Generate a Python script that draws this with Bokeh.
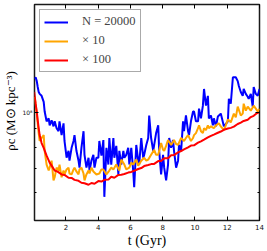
from bokeh.plotting import figure
from bokeh.models import (Range1d, FixedTicker, LinearAxis, LogAxis, Legend,
                          LegendItem)
from bokeh.embed import file_html
from bokeh.resources import INLINE

# central density rho_c, in units of 1e7 Msun/kpc^3, versus time t (Gyr)
UNIT = 1e7

t_n20000 = [0.06, 0.12, 0.19, 0.25, 0.31, 0.37, 0.49, 0.62, 0.68, 0.80, 0.93, 0.99,
            1.11, 1.23, 1.30, 1.42, 1.54, 1.60, 1.73, 1.85, 1.91, 2.04, 2.16, 2.22,
            2.35, 2.47, 2.53, 2.65, 2.78, 2.84, 2.96, 3.09, 3.15, 3.27, 3.40, 3.46,
            3.58, 3.70, 3.77, 3.89, 4.01, 4.07, 4.20, 4.32, 4.38, 4.51, 4.63, 4.69,
            4.81, 4.94, 5.00, 5.12, 5.25, 5.31, 5.43, 5.56, 5.62, 5.74, 5.86, 5.93,
            6.05, 6.17, 6.23, 6.36, 6.48, 6.54, 6.67, 6.79, 6.85, 6.98, 7.10, 7.16,
            7.28, 7.41, 7.47, 7.59, 7.72, 7.78, 7.90, 8.02, 8.09, 8.21, 8.33, 8.40,
            8.52, 8.64, 8.70, 8.83, 8.95, 9.01, 9.14, 9.26, 9.32, 9.44, 9.57, 9.63,
            9.75, 9.88, 9.94, 10.06, 10.19, 10.25, 10.37, 10.49, 10.56, 10.68, 10.80,
            10.86, 10.99, 11.11, 11.17, 11.30, 11.42, 11.60, 11.79, 12.04, 12.10,
            12.22, 12.35, 12.41, 12.53, 12.65, 12.72, 12.84, 12.96, 13.02, 13.15,
            13.27, 13.33, 13.46, 13.58, 13.64, 13.77, 13.89, 14.00]
rho_n20000 = [12.39, 12.54, 12.23, 11.78, 11.41, 11.27, 11.13, 10.71, 10.06, 9.45, 9.63, 9.21,
              9.51, 9.15, 9.45, 9.04, 8.87, 9.45, 8.65, 9.33, 8.33, 7.48, 7.82, 7.34,
              7.97, 8.33, 8.65, 7.82, 7.34, 7.02, 7.97, 8.87, 7.62, 7.02, 7.48, 6.89,
              7.34, 7.62, 7.02, 7.48, 7.48, 8.33, 7.58, 8.38, 5.82, 7.97, 7.16, 8.49,
              7.16, 8.49, 7.48, 8.07, 6.72, 7.82, 7.16, 7.82, 7.48, 7.62, 7.97, 7.16,
              7.97, 6.89, 6.19, 8.12, 7.34, 7.16, 8.49, 7.48, 7.62, 8.12, 8.49, 9.81,
              8.49, 7.82, 8.12, 8.76, 9.21, 7.82, 6.72, 7.62, 7.02, 6.47, 7.16, 8.49,
              7.97, 8.38, 7.82, 7.02, 7.34, 8.12, 7.82, 9.45, 8.87, 9.81, 8.87, 8.65,
              9.45, 10.06, 10.06, 9.45, 9.45, 10.25, 9.63, 10.45, 11.63, 10.45, 11.13,
              9.63, 9.81, 9.21, 9.63, 9.15, 9.75, 9.93, 9.15, 9.45, 10.92,
              10.58, 12.54, 12.54, 12.54, 12.23, 11.85, 11.41, 11.13, 11.63, 11.27,
              11.06, 10.92, 11.27, 10.38, 11.78, 11.27, 11.13, 11.63]

t_x10 = [0.06, 0.19, 0.31, 0.37, 0.49, 0.62, 0.68, 0.80, 0.93, 0.99, 1.11, 1.23,
         1.30, 1.42, 1.54, 1.60, 1.73, 1.85, 1.91, 2.04, 2.16, 2.22, 2.35, 2.47,
         2.53, 2.65, 2.78, 2.84, 2.96, 3.09, 3.15, 3.27, 3.40, 3.46, 3.58, 3.70,
         3.89, 4.07, 4.20, 4.32, 4.51, 4.69, 4.81, 4.94, 5.12, 5.31, 5.43, 5.62,
         5.74, 5.93, 6.05, 6.17, 6.36, 6.48, 6.67, 6.85, 6.98, 7.10, 7.28, 7.47,
         7.59, 7.72, 7.90, 8.02, 8.09, 8.21, 8.33, 8.52, 8.64, 8.70, 8.83, 8.95,
         9.14, 9.32, 9.44, 9.57, 9.75, 9.88, 9.94, 10.06, 10.19, 10.25, 10.37,
         10.49, 10.56, 10.68, 10.80, 10.86, 10.99, 11.17, 11.30, 11.48, 11.60,
         11.79, 11.91, 12.04, 12.22, 12.41, 12.53, 12.65, 12.84, 12.96, 13.02,
         13.15, 13.27, 13.46, 13.64, 13.77, 13.89, 14.00]
rho_x10 = [11.06, 9.93, 8.76, 8.33, 8.49, 8.65, 7.82, 7.16, 6.89, 7.02, 7.34, 6.47,
           6.60, 7.02, 6.89, 7.16, 6.60, 6.89, 6.72, 6.94, 7.02, 6.76, 6.72, 6.94,
           7.02, 6.85, 6.72, 6.94, 7.02, 6.76, 6.47, 6.72, 6.89, 6.76, 7.02, 6.85,
           6.72, 6.76, 6.94, 6.94, 6.72, 6.89, 7.02, 6.94, 7.16, 6.89, 7.39, 7.16,
           6.94, 7.02, 7.25, 7.16, 7.39, 7.11, 7.34, 7.48, 7.34, 7.39, 7.62, 7.87,
           7.62, 7.62, 8.22, 7.87, 7.82, 8.07, 8.38, 8.12, 8.28, 8.38, 8.17, 8.12,
           8.49, 8.33, 8.49, 8.65, 8.33, 8.49, 8.65, 8.76, 9.04, 9.21, 8.87,
           8.76, 9.04, 8.93, 9.21, 9.04, 9.15, 9.04, 9.21, 9.33, 9.15,
           8.93, 9.21, 9.57, 9.39, 9.93, 9.69, 10.38, 9.81, 9.93, 10.58,
           10.12, 10.38, 10.12, 10.45, 10.25, 10.06, 10.25]

t_x100 = [0.03, 0.06, 0.12, 0.19, 0.25, 0.31, 0.37, 0.49, 0.62, 0.80, 0.99, 1.11,
          1.30, 1.48, 1.73, 1.91, 2.16, 2.35, 2.53, 2.78, 2.96, 3.15, 3.40, 3.58,
          3.77, 4.01, 4.20, 4.38, 4.63, 4.81, 5.00, 5.25, 5.43, 5.62, 5.86, 6.05,
          6.23, 6.48, 6.67, 6.85, 7.10, 7.28, 7.47, 7.72, 7.90, 8.09, 8.33, 8.52,
          8.70, 8.95, 9.14, 9.32, 9.57, 9.75, 9.94, 10.19, 10.37, 10.56, 10.80,
          10.99, 11.17, 11.42, 11.60, 11.79, 12.04, 12.22, 12.41, 12.65, 12.84,
          13.02, 13.27, 13.46, 13.64, 13.83, 13.95]
rho_x100 = [11.41, 11.13, 10.58, 10.06, 9.51, 9.04, 8.65, 8.22, 7.97, 7.58, 7.25, 7.11,
            6.89, 6.84, 6.72, 6.70, 6.58, 6.57, 6.49, 6.45, 6.37, 6.35, 6.29, 6.36,
            6.33, 6.44, 6.42, 6.49, 6.50, 6.62, 6.58, 6.70, 6.71, 6.74, 6.80, 6.83,
            6.88, 6.96, 7.00, 7.09, 7.14, 7.18, 7.19, 7.32, 7.33, 7.45, 7.46, 7.60,
            7.61, 7.74, 7.81, 7.89, 8.00, 8.09, 8.10, 8.24, 8.31, 8.40, 8.52,
            8.61, 8.68, 8.78, 8.85, 8.95, 9.02, 9.06, 9.13, 9.29, 9.37,
            9.47, 9.55, 9.71, 9.79, 9.95, 10.00]

x_ticks = [2, 4, 6, 8, 10, 12, 14]
y_major = [1e8]
y_minor = [6e7, 7e7, 8e7, 9e7]
y_tick_label = {1e8: "10\u2078"}
legend_labels = ["N = 20000", "\u00d7 10", "\u00d7 100"]
colors = ["#0000ff", "#ffa500", "#ff0000"]
x_title = "t (Gyr)"
y_title = "\u03c1c (M\u2299 kpc\u207b\u00b3)"

p = figure(width=265, height=250, x_range=Range1d(0.05, 14.0),
           y_range=Range1d(5e7, 2e8), y_axis_type="log",
           output_backend="svg", toolbar_location=None,
           min_border_left=32, min_border_right=6, min_border_top=4,
           min_border_bottom=26)
p.xgrid.visible = False
p.ygrid.visible = False
p.outline_line_color = "#1a1a1a"
p.outline_line_width = 1.5
p.background_fill_color = "white"
p.border_fill_color = "white"

series = [(t_n20000, rho_n20000), (t_x10, rho_x10), (t_x100, rho_x100)]
renderers = []
for (tt, rr), c in zip(series, colors):
    r = p.line(tt, [v * UNIT for v in rr], line_color=c, line_width=2)
    renderers.append(r)

xt = FixedTicker(ticks=x_ticks, minor_ticks=[])
yt = FixedTicker(ticks=y_major, minor_ticks=y_minor)


def style_axis(ax, show_labels):
    ax.axis_line_color = None
    ax.major_tick_in = 4
    ax.major_tick_out = 0
    ax.minor_tick_in = 2
    ax.minor_tick_out = 0
    ax.major_tick_line_color = "black"
    ax.minor_tick_line_color = "black"
    if show_labels:
        ax.major_label_text_font = "DejaVu Sans"
        ax.major_label_text_color = "#111111"
        ax.axis_label_text_font = "Liberation Serif"
        ax.axis_label_text_font_style = "normal"
        ax.axis_label_text_color = "black"
    else:
        ax.major_label_text_font_size = "1px"
        ax.major_label_text_color = None
        ax.major_label_standoff = 0


xa = p.xaxis[0]
xa.ticker = xt
style_axis(xa, True)
xa.major_label_text_font_size = "7px"
xa.major_label_standoff = 3
xa.axis_label = x_title
xa.axis_label_text_font_size = "14px"
xa.axis_label_standoff = 0

ya = p.yaxis[0]
ya.ticker = yt
style_axis(ya, True)
ya.major_label_text_font_size = "6px"
ya.major_label_standoff = 2
ya.major_label_overrides = y_tick_label
ya.axis_label = y_title
ya.axis_label_text_font_size = "13px"
ya.axis_label_standoff = 1

top = LinearAxis(ticker=xt)
style_axis(top, False)
p.add_layout(top, "above")
right = LogAxis(ticker=yt)
style_axis(right, False)
p.add_layout(right, "right")

legend = Legend(items=[LegendItem(label=lab, renderers=[r])
                       for lab, r in zip(legend_labels, renderers)],
                location="top_left", margin=5, padding=4, spacing=4,
                glyph_width=24, glyph_height=14, label_height=14,
                label_standoff=14, label_text_font="Liberation Serif",
                label_text_font_size="12.5px", border_line_color="#555555",
                border_line_width=1, background_fill_color="white",
                background_fill_alpha=1.0)
p.add_layout(legend)

open("out.html", "w").write(file_html(p, INLINE))
